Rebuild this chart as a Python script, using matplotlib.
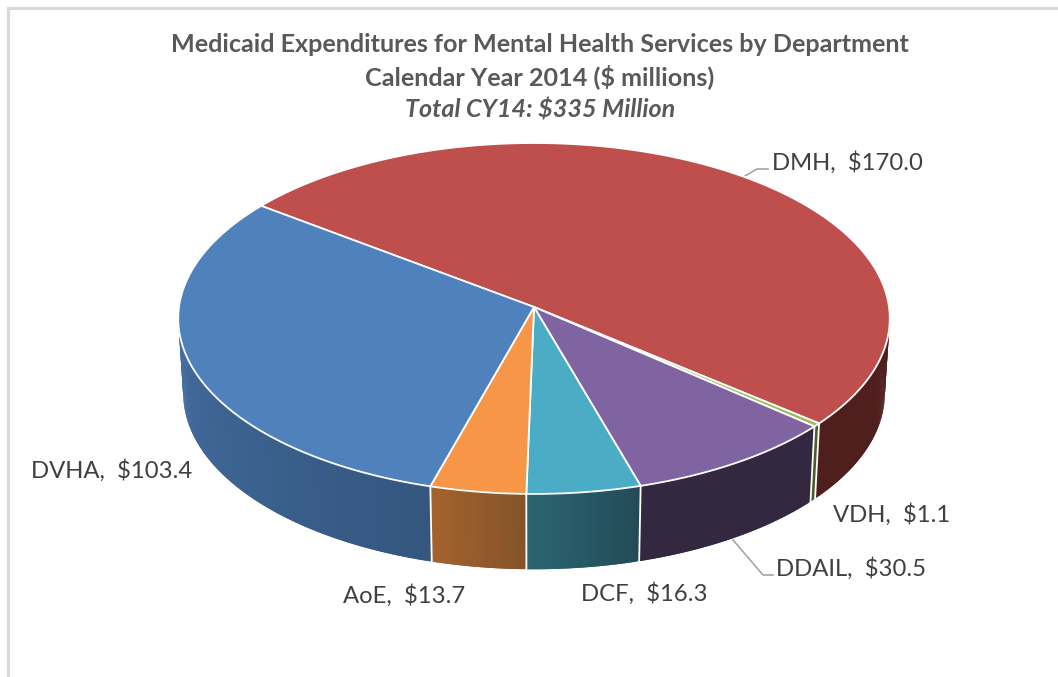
import numpy as np
import matplotlib
matplotlib.use("Agg")
import matplotlib.pyplot as plt
from matplotlib.colors import to_rgb

# data, clockwise from the DMH slice
departments = ["DMH", "VDH", "DDAIL", "DCF", "AoE", "DVHA"]
expenditures = [170.0, 1.1, 30.5, 16.3, 13.7, 103.4]
title_lines = ["Medicaid Expenditures for Mental Health Services by Department",
               "Calendar Year 2014 ($ millions)",
               "Total CY14: $335 Million"]

top_colors = ["#BE4F4C", "#9BBB59", "#8064A2", "#4BACC6", "#F79646", "#4F81BD"]
wall_start = ["#4F1F1D", "#4A5E2B", "#33283F", "#234B57", "#85532A", "#34577F"]
wall_end = ["#4F1F1D", "#4A5E2B", "#33283F", "#2A6570", "#A3632D", "#456EA2"]

# label baselines in pixels
label_pos = [(772, 170), (833, 522), (776, 576), (581, 601), (343, 603), (31, 478)]
leaders = {"DMH": ([745, 757, 768], [176, 169, 169]),
           "DDAIL": ([733, 763, 773], [540, 575, 575])}

plt.rcParams["font.family"] = ["Lato", "DejaVu Sans"]

# projection of the tilted disc
cx, cy_top, cy_bot = 534, 307, 382
rx_top, ry_top = 355, 174.7
rx_bot, ry_bot = 350, 175
persp = 0.0654
start_angle = 143.0


def project(theta, bottom=False):
    u, v = np.cos(np.radians(theta)), np.sin(np.radians(theta))
    k = 1 / (1 + persp * v)
    if bottom:
        return cx + rx_bot * u * k, cy_bot - ry_bot * v * k
    return cx + rx_top * u * k, cy_top - ry_top * v * k


fig = plt.figure(figsize=(10.58, 6.77), dpi=100)
ax = fig.add_axes([0, 0, 1, 1])
ax.set_xlim(0, 1058)
ax.set_ylim(677, 0)
ax.axis("off")

# outer frame, only top and left are in the picture
ax.plot([7.5, 7.5, 1058], [677, 8, 8], color="#D9D9D9", lw=2.2, solid_joinstyle="miter")

sweeps = np.array(expenditures) / sum(expenditures) * 360
edges = start_angle - np.concatenate([[0], np.cumsum(sweeps)])

# side walls first, each strip overlaps the next one so no seams show
for i in range(len(departments)):
    a0, a1 = edges[i], edges[i + 1]
    if i == 0:
        a0, a1 = a1, 6.0  # right end of the visible wall
    elif i == 5:
        a1 = -186.0
    n = max(int(abs(a1 - a0) * 2), 2)
    th = np.linspace(a0, a1, n + 1)
    xt, yt = project(th)
    xb, yb = project(th, bottom=True)
    c0, c1 = np.array(to_rgb(wall_start[i])), np.array(to_rgb(wall_end[i]))
    for j in range(n):
        e = min(j + 2, n)
        ax.fill([xt[j], xt[e], xb[e], xb[j]], [yt[j], yt[e], yb[e], yb[j]],
                facecolor=c0 + (c1 - c0) * j / max(n - 1, 1), edgecolor="none", zorder=2)

# white separators on the walls
for a in edges[1:-1]:
    xt, yt = project(a)
    xb, yb = project(a, bottom=True)
    ax.plot([xt, xb], [yt, yb], color="white", lw=1.3, zorder=3)

# top face
for i in range(len(departments)):
    th = np.linspace(edges[i], edges[i + 1], max(int(sweeps[i] * 2), 4))
    x, y = project(th)
    ax.fill(np.r_[cx, x], np.r_[cy_top, y], facecolor=top_colors[i], edgecolor="white",
            lw=1.3, joinstyle="round", zorder=4)

for xs, ys in leaders.values():
    ax.plot(xs, ys, color="#A6A6A6", lw=1.2, zorder=1)

for name, val, (lx, ly) in zip(departments, expenditures, label_pos):
    ax.text(lx, ly, f"{name},  \\${val:.1f}", fontsize=17.2, color="#404040", ha="left", va="baseline", zorder=5)

title_y = [52, 85, 118]
for j, line in enumerate(title_lines):
    ax.text(540, title_y[j], line.replace("$", r"\$"), fontsize=18.1, fontweight="bold", color="#595959",
            ha="center", va="baseline", fontstyle="italic" if j == 2 else "normal")

fig.savefig("out.png", dpi=100, facecolor="white")
